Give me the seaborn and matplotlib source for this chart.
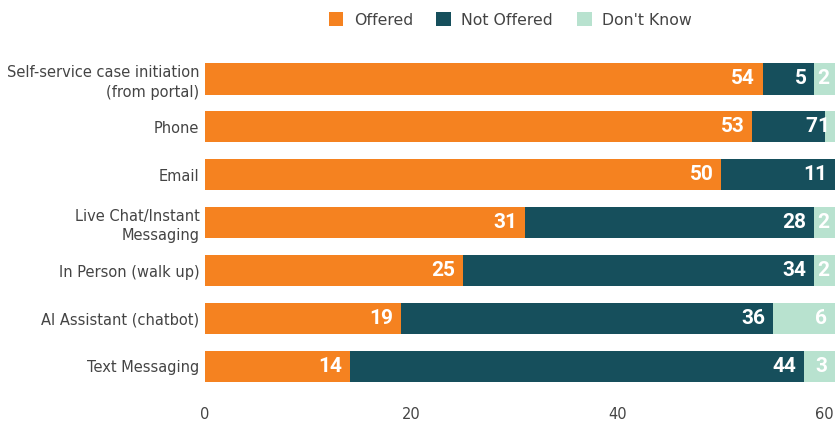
import pandas as pd
import seaborn as sns
import matplotlib.pyplot as plt
from matplotlib.patches import Patch

categories = ["Self-service case initiation\n(from portal)", "Phone", "Email",
              "Live Chat/Instant\nMessaging", "In Person (walk up)",
              "AI Assistant (chatbot)", "Text Messaging"]
offered = [54, 53, 50, 31, 25, 19, 14]
not_offered = [5, 7, 11, 28, 34, 36, 44]
dont_know = [2, 1, 0, 2, 2, 6, 3]

series_names = ["Offered", "Not Offered", "Don't Know"]
colors = ["#F58220", "#164F5C", "#B8E2CF"]

df = pd.DataFrame({"cat": categories, "Offered": offered,
                   "Not Offered": not_offered, "Don't Know": dont_know})
df["c1"] = df["Offered"]
df["c2"] = df["c1"] + df["Not Offered"]
df["c3"] = df["c2"] + df["Don't Know"]

sns.set_theme(style="white")
plt.rcParams["font.family"] = ["DejaVu Sans"]

fig = plt.figure(figsize=(8.36, 4.22), dpi=100)
ax = fig.add_axes([205 / 836, 1 - 400 / 422, 630 / 836, 345 / 422])

# stack by drawing cumulative totals back to front
for col, color in zip(["c3", "c2", "c1"], colors[::-1]):
    sns.barplot(data=df, x=col, y="cat", orient="h", color=color,
                width=0.65, ax=ax, saturation=1, linewidth=0)

for i, row in df.iterrows():
    starts = [0, row["c1"], row["c2"]]
    for name, start in zip(series_names, starts):
        v = row[name]
        if v <= 0:
            continue
        pad = -4 if v < 3 else -5.5
        ax.annotate(f"{v}", (start + v, i), xytext=(pad, 0),
                    textcoords="offset points", ha="right", va="center",
                    color="white", fontsize=15, fontweight="bold",
                    family=["Roboto", "DejaVu Sans"])

ax.set_xlim(0, 61)
ax.set_ylim(6.7, -0.5)
ax.set_xticks([0, 20, 40, 60])
ax.set_xlabel("")
ax.set_ylabel("")
ax.tick_params(axis="both", length=0, labelsize=10.5, labelcolor="#444444")
ax.tick_params(axis="y", pad=4)
ax.tick_params(axis="x", pad=5)
for t in ax.get_yticklabels():
    t.set_linespacing(1.35)
for s in ax.spines.values():
    s.set_visible(False)

handles = [Patch(facecolor=c, edgecolor="none") for c in colors]
fig.legend(handles, series_names, loc="center", bbox_to_anchor=(510 / 836, 1 - 20 / 422),
           ncol=3, frameon=False, fontsize=11.3, handlelength=0.95, handleheight=0.95,
           columnspacing=1.5, handletextpad=0.65, labelcolor="#444444")

fig.savefig("out.png", dpi=100)
